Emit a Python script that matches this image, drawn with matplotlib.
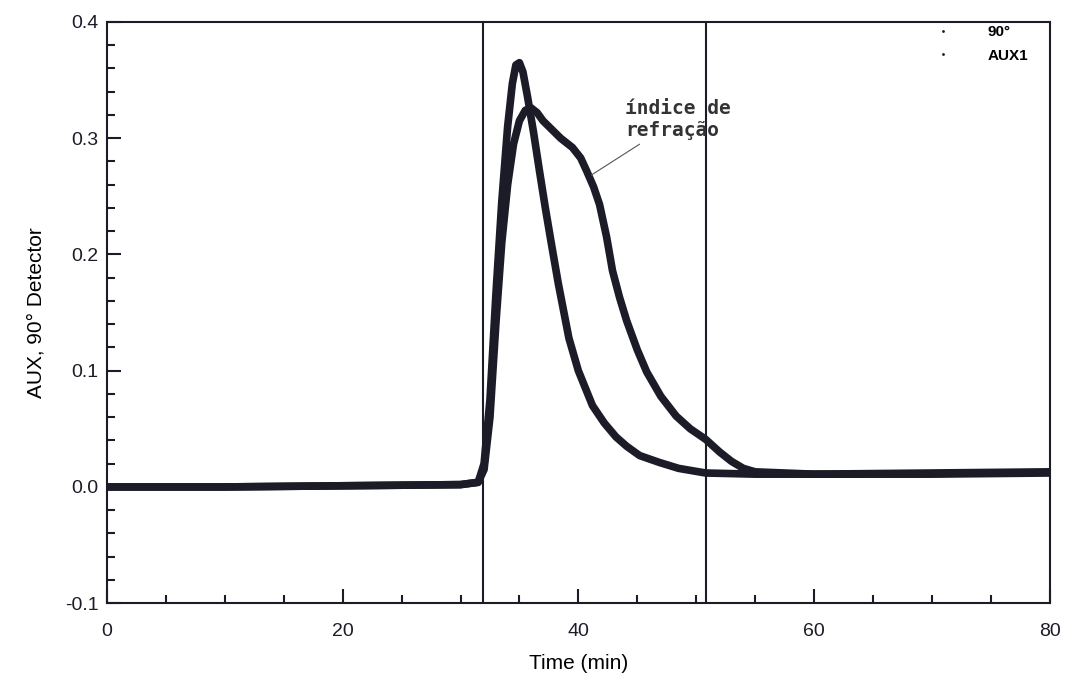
import matplotlib
matplotlib.use("Agg")
import matplotlib.pyplot as plt
from matplotlib.ticker import MultipleLocator

plt.rcParams['font.family'] = ['Liberation Sans', 'DejaVu Sans']

# 90 degree light scattering detector
t_90 = [0, 10, 20, 30, 31.5, 32.0, 32.5, 33.0, 33.5, 34.0, 34.4, 34.7, 35.0,
        35.3, 35.7, 36.2, 36.7, 37.2, 37.7, 38.3, 39.2, 40.0, 41.2, 42.2, 43.2,
        44.1, 45.2, 46.9, 48.5, 50.8, 55, 60, 70, 80]
y_90 = [0.0, 0.0, 0.001, 0.002, 0.004, 0.02, 0.075, 0.165, 0.245, 0.31, 0.347,
        0.363, 0.365, 0.357, 0.335, 0.305, 0.272, 0.24, 0.21, 0.175, 0.128,
        0.1, 0.07, 0.055, 0.043, 0.035, 0.027, 0.021, 0.016, 0.012, 0.011,
        0.011, 0.012, 0.013]

# AUX1 - refractive index
t_aux = [0, 10, 20, 30, 31.5, 32.0, 32.5, 33.0, 33.5, 34.0, 34.5, 35.0, 35.5,
         36.0, 36.5, 37.0, 37.8, 38.5, 39.5, 40.2, 40.7, 41.3, 41.8, 42.4, 42.9,
         43.5, 44.1, 45.0, 45.8, 47.0, 48.3, 49.5, 50.8, 52.0, 53.0, 54.0, 55,
         60, 70, 80]
y_aux = [0.0, 0.0, 0.001, 0.002, 0.004, 0.015, 0.06, 0.14, 0.21, 0.26, 0.295,
         0.315, 0.324, 0.326, 0.322, 0.315, 0.307, 0.3, 0.292, 0.283, 0.272,
         0.258, 0.243, 0.215, 0.186, 0.163, 0.143, 0.118, 0.099, 0.078, 0.061,
         0.05, 0.041, 0.03, 0.022, 0.016, 0.013, 0.011, 0.011, 0.012]

# integration limits
limits = [31.9, 50.8]

ink = '#1c1c28'

fig = plt.figure(figsize=(10.7, 6.87), dpi=100)
ax = fig.add_axes([0.1, 0.122, 0.881, 0.846])

ax.plot(t_aux, y_aux, color=ink, lw=5.5, solid_joinstyle='round', solid_capstyle='round')
ax.plot(t_90, y_90, color=ink, lw=5.5, solid_joinstyle='round', solid_capstyle='round')
for xv in limits:
    ax.axvline(xv, color=ink, lw=1.5)

# legend-like labels top right
ax.plot([], [], ls='none', marker='.', ms=2, color=ink, label='90°')
ax.plot([], [], ls='none', marker='.', ms=2, color=ink, label='AUX1')
ax.legend(loc='upper right', bbox_to_anchor=(0.99, 1.015), frameon=False,
          handlelength=1.0, handletextpad=2.4, borderaxespad=0.4,
          labelspacing=0.6, prop={'size': 11, 'weight': 'bold'})

ax.annotate('índice de\nrefração', xy=(40.9, 0.267), xytext=(44.0, 0.302),
            fontsize=14, family='DejaVu Sans Mono', fontweight='bold', color='#333',
            arrowprops=dict(arrowstyle='-', color='#555', lw=0.8))

ax.set_xlim(0, 80)
ax.set_ylim(-0.1, 0.4)
ax.xaxis.set_major_locator(MultipleLocator(20))
ax.xaxis.set_minor_locator(MultipleLocator(5))
ax.yaxis.set_major_locator(MultipleLocator(0.1))
ax.yaxis.set_minor_locator(MultipleLocator(0.02))
ax.set_yticklabels([f'{v:.1f}' for v in ax.get_yticks()])
ax.tick_params(which='both', direction='in', labelsize=14, width=1.5, color=ink,
               labelcolor=ink)
ax.tick_params(axis='x', which='both', pad=14)
ax.tick_params(axis='y', which='both', pad=6)
ax.tick_params(which='major', length=10)
ax.tick_params(which='minor', length=6)
for s in ax.spines.values():
    s.set_linewidth(1.5)
    s.set_color(ink)

ax.set_xlabel('Time (min)', fontsize=15, labelpad=10)
ax.set_ylabel('AUX, 90° Detector', fontsize=15, labelpad=14)

fig.savefig('out.png', dpi=100)
